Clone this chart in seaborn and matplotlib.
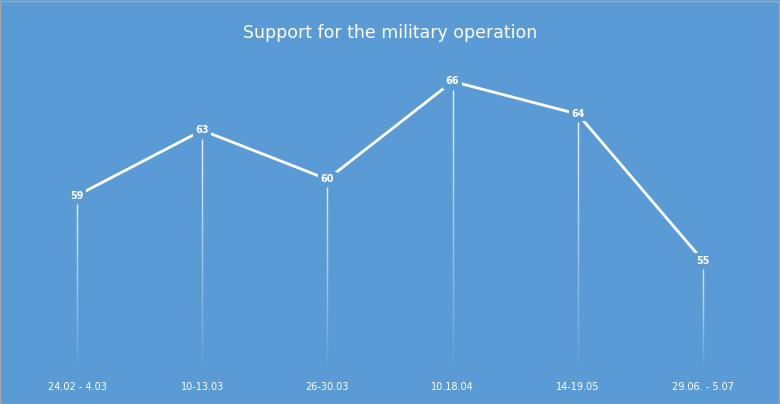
import matplotlib
matplotlib.use("Agg")
import matplotlib.pyplot as plt
import seaborn as sns
import numpy as np
import pandas as pd
from matplotlib.patches import Rectangle

categories = ["24.02 - 4.03", "10-13.03", "26-30.03", "10.18.04", "14-19.05", "29.06. - 5.07"]
support = [59, 63, 60, 66, 64, 55]
title = "Support for the military operation"

bg = "#5B9BD5"
sns.set_theme(style="white")
plt.rcParams['font.family'] = ['DejaVu Sans']

df = pd.DataFrame({"x": range(len(categories)), "y": support})
fig = plt.figure(figsize=(7.8, 4.04), dpi=100, facecolor=bg)
ax = fig.add_axes([0, 39/404, 1, 1 - 39/404])
ax.set_facecolor(bg)
ax.set_xlim(-0.615, 5.615)
ax.set_ylim(48.6, 71.0)

base = 48.6
n = 40
for x, y in zip(df.x, df.y):
    top = y - 0.5
    edges = np.linspace(base, top, n + 1)
    for i in range(n):
        ax.plot([x, x], [edges[i], edges[i + 1]], color="white",
                alpha=0.05 + 0.85 * (i / n), lw=1.0, solid_capstyle="butt", zorder=1)

sns.lineplot(data=df, x="x", y="y", ax=ax, color="white", lw=2, zorder=2)
for x, y in zip(df.x, df.y):
    ax.text(x, y, str(y), ha="center", va="center", color="white", fontsize=7,
            fontweight="bold", zorder=3,
            bbox=dict(boxstyle="square,pad=0.25", fc=bg, ec="none"))

for s in ax.spines.values():
    s.set_visible(False)
ax.set_xticks([]); ax.set_yticks([])
ax.set_xlabel(""); ax.set_ylabel("")
for i, c in enumerate(categories):
    fig.text((77 + 125.2 * i) / 780, 1 - 387 / 404, c, ha="center", va="center",
             color="white", fontsize=7)
fig.text(0.5, 1 - 33 / 404, title, ha="center", va="center", color="white", fontsize=12.5)
fig.patches.append(Rectangle((0.0005, 0.001), 0.998, 0.997, transform=fig.transFigure,
                             fill=False, ec="#A6A6A6", lw=1))
fig.savefig("out.png", dpi=100, facecolor=bg)
